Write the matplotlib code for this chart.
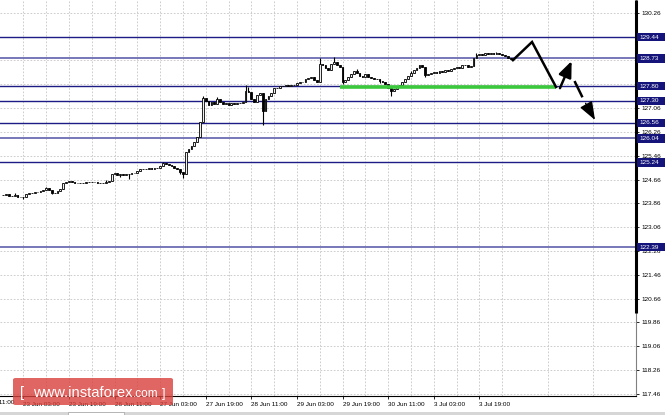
import matplotlib
matplotlib.use("Agg")
import matplotlib.pyplot as plt
import matplotlib.transforms as mtransforms
from matplotlib.patches import FancyBboxPatch, Rectangle
import numpy as np

# Hourly closes, first bar sits 7 hours before "23 Jun 03:00" (bar index 0)
FIRST_BAR = -7
FIRST_OPEN = 124.13
CLOSES = [
    124.15, 124.16, 124.12, 124.10, 124.13, 124.09, 124.08,
    124.07, 124.18, 124.22, 124.20, 124.24, 124.25, 124.27, 124.31,
    124.36, 124.30, 124.21, 124.20, 124.29, 124.35, 124.55, 124.58,
    124.60, 124.57, 124.55, 124.54, 124.55, 124.53, 124.57, 124.58,
    124.57, 124.59, 124.56, 124.55, 124.54, 124.58, 124.62, 124.85,
    124.88, 124.80, 124.84, 124.82, 124.86, 124.84, 124.88, 124.87,
    124.95, 125.00, 125.03, 125.02, 125.05, 125.03, 125.05, 125.04,
    125.12, 125.20, 125.18, 125.14, 125.10, 125.05, 125.00, 124.92,
    124.85, 125.58, 125.70, 125.80, 125.92, 126.08, 126.58, 127.40,
    127.30, 127.15, 127.25, 127.20, 127.38, 127.25, 127.20, 127.22,
    127.18, 127.22, 127.20, 127.24, 127.23, 127.28, 127.65, 127.60,
    127.35, 127.25, 127.50, 127.55, 126.95, 127.35, 127.45, 127.55,
    127.72, 127.75, 127.80, 127.79, 127.82, 127.80, 127.83, 127.82,
    127.90, 127.92, 127.95, 128.05, 128.08, 128.10, 128.00, 127.93,
    128.55, 128.50, 128.40, 128.35, 128.55, 128.62, 128.52, 128.45,
    127.95, 128.00, 128.10, 128.20, 128.30, 128.25, 128.15, 128.12,
    128.20, 128.12, 128.08, 128.02, 128.05, 127.98, 127.95, 127.88,
    127.75, 127.62, 127.70, 127.80, 127.85, 127.95, 128.05, 128.15,
    128.25, 128.35, 128.42, 128.50, 128.45, 128.18, 128.22, 128.25,
    128.27, 128.25, 128.30, 128.28, 128.35, 128.32, 128.38, 128.40,
    128.45, 128.40, 128.50, 128.52, 128.45, 128.48, 128.75, 128.85,
    128.88, 128.85, 128.90, 128.87, 128.90, 128.86, 128.92, 128.88,
    128.85, 128.80, 128.75, 128.72, 128.70,
]
# long shadows that stick out of the bodies
WICK_HIGHS = {-3: 124.20, 8: 124.42, 29: 124.66, 37: 124.68, 49: 125.26,
              63: 127.48, 68: 127.42, 78: 127.82, 79: 127.78, 104: 128.74,
              109: 128.77, 117: 128.36, 136: 128.30, 159: 128.90, 166: 128.96}
WICK_LOWS = {0: 124.02, 10: 124.16, 34: 124.74, 55: 124.86, 56: 124.70,
             84: 126.50, 112: 127.88, 125: 127.90, 129: 127.45, 141: 128.10}

TIME_LABELS = ["22 Jun 11:00", "23 Jun 03:00", "23 Jun 19:00", "26 Jun 11:00",
               "27 Jun 03:00", "27 Jun 19:00", "28 Jun 11:00", "29 Jun 03:00",
               "29 Jun 19:00", "30 Jun 11:00", "3 Jul 03:00", "3 Jul 19:00"]
TIME_TICKS = [-16, 0, 16, 32, 48, 64, 80, 96, 112, 128, 144, 160]
PRICE_TICKS = [117.46, 118.26, 119.06, 119.86, 120.66, 121.46, 122.26, 123.06,
               123.86, 124.66, 125.46, 126.26, 127.06, 127.86, 128.66, 129.46,
               130.26]
# tick labels that sit fully under a level box in the terminal
HIDDEN_TICKS = [127.86, 129.46]
LEVELS = [129.44, 128.73, 127.80, 127.30, 126.56, 126.04, 125.24, 122.39]
LIGHT_LEVELS = [128.73, 126.04, 122.39]

SUPPORT_PRICE = 127.78
SUPPORT_BARS = [111, 187]

PATH_X = [171.8, 178.5, 186.9]
PATH_Y = [128.67, 129.28, 127.77]
UP_FROM = (188.3, 127.73)
UP_TO = (192.4, 128.64)
DASH_X = [193.6, 196.0]
DASH_Y = [127.93, 127.46]
DOWN_FROM = (197.3, 127.22)
DOWN_TO = (200.6, 126.66)

NAVY = "#1c1c84"
LIGHT_NAVY = "#6c6cb4"
FONT = "Liberation Sans"


def main():
    plt.rcParams["font.family"] = [FONT, "DejaVu Sans"]
    fig = plt.figure(figsize=(6.65, 4.15), dpi=100, facecolor="white")
    ax = fig.add_axes([0, 19 / 415, 636 / 665, 396 / 415])
    ax.set_xlim(-8.18, 214.98)
    ax.set_ylim(117.39, 130.69)

    # candles
    closes = np.array(CLOSES)
    opens = np.concatenate([[FIRST_OPEN], closes[:-1]])
    idx = np.arange(len(closes)) + FIRST_BAR
    highs = np.maximum(opens, closes)
    lows = np.minimum(opens, closes)
    for i, v in WICK_HIGHS.items():
        highs[i - FIRST_BAR] = v
    for i, v in WICK_LOWS.items():
        lows[i - FIRST_BAR] = v
    ax.vlines(idx, lows, highs, color="black", lw=0.8, zorder=3)
    bull = closes >= opens
    ax.bar(idx, np.abs(closes - opens), bottom=np.minimum(opens, closes),
           width=0.62, color=np.where(bull, "#f0f0f0", "black"),
           edgecolor="black", lw=0.6, zorder=4)

    # horizontal levels with their price boxes on the scale
    lvl_tr = mtransforms.blended_transform_factory(ax.transAxes, ax.transData)
    box_h = 8.5 / 29.79
    for lv in LEVELS:
        light = lv in LIGHT_LEVELS
        ax.axhline(lv, color=LIGHT_NAVY if light else NAVY,
                   lw=1.3 if light else 1.0, zorder=2)
        ax.add_patch(Rectangle((1.002, lv - box_h / 2), 0.045, box_h,
                               transform=lvl_tr, fc="#14147a", ec="none",
                               clip_on=False, zorder=8))
        ax.text(1.0055, lv, f"{lv:.2f}", transform=lvl_tr, ha="left", va="center",
                fontsize=4.6, color="white", clip_on=False, zorder=9)

    ax.hlines(SUPPORT_PRICE, SUPPORT_BARS[0], SUPPORT_BARS[1],
              color="#3cc83c", lw=2.6, zorder=5)

    # forecast arrows
    ax.plot(PATH_X, PATH_Y, color="black", lw=1.8, zorder=6,
            solid_joinstyle="miter")
    ax.annotate("", xy=UP_TO, xytext=UP_FROM, zorder=6,
                arrowprops=dict(arrowstyle="-|>,head_length=0.8,head_width=0.33",
                                mutation_scale=12, color="black", lw=1.8,
                                shrinkA=0, shrinkB=0))
    ax.plot(DASH_X, DASH_Y, color="black", lw=1.8, zorder=6)
    ax.annotate("", xy=DOWN_TO, xytext=DOWN_FROM, zorder=6,
                arrowprops=dict(arrowstyle="-|>,head_length=0.8,head_width=0.3",
                                mutation_scale=14, color="black", lw=1.0,
                                shrinkA=0, shrinkB=0))

    # grid and axes
    ax.set_xticks(TIME_TICKS[1:], TIME_LABELS[1:], ha="left")
    ax.set_xticks(np.arange(8, 215, 16), minor=True)
    ax.yaxis.tick_right()
    ax.set_yticks(PRICE_TICKS, ["" if v in HIDDEN_TICKS else f"{v:.2f}"
                                for v in PRICE_TICKS])
    ax.tick_params(axis="both", which="major", labelsize=4.6, length=2.5,
                   width=0.6, pad=1.5, colors="black")
    ax.tick_params(axis="x", which="minor", length=0)
    ax.grid(True, which="both", color="#c4c4c4", lw=0.6, linestyle=(0, (2, 2)))
    ax.set_axisbelow(True)
    ax.text(TIME_TICKS[0], -4 / 396, TIME_LABELS[0], transform=ax.get_xaxis_transform(),
            ha="left", va="top", fontsize=4.6, clip_on=False)

    for s in ["top", "left"]:
        ax.spines[s].set_visible(False)
    ax.spines["bottom"].set_color("black")
    ax.spines["bottom"].set_linewidth(0.8)
    ax.spines["right"].set_color("#808080")
    ax.spines["right"].set_linewidth(0.8)
    ax.plot([1, 1], [0.21, 1], transform=ax.transAxes, color="black", lw=2.2,
            clip_on=False, solid_capstyle="butt", zorder=7)

    # status strip at the very bottom
    fig.patches.append(Rectangle((0, 0), 1, 3 / 415, transform=fig.transFigure,
                                 fc="#d6d6d6", ec="none", zorder=0))
    fig.patches.append(Rectangle((68 / 665, 0), 56 / 665, 3 / 415,
                                 transform=fig.transFigure, fc="white",
                                 ec="#a0a0a0", lw=0.5, zorder=1))

    # watermark
    fig.patches.append(FancyBboxPatch((13 / 665, 10 / 415), 160 / 665, 27 / 415,
                                      boxstyle="round,pad=0,rounding_size=0.004",
                                      transform=fig.transFigure, fc="#d9403c",
                                      ec="none", alpha=0.8, zorder=10))
    base = 18 / 415
    fig.text(20 / 665, base, "[", color="white", fontsize=10.5, va="baseline",
             zorder=11)
    fig.text(33 / 665, base, "www.instaforex", color="white", fontsize=10.6,
             va="baseline", zorder=11)
    fig.text(133 / 665, base, ".com", color="white", fontsize=8.5,
             va="baseline", zorder=11)
    fig.text(162 / 665, base, "]", color="white", fontsize=9, va="baseline",
             zorder=11)

    fig.savefig("out.png", dpi=100, facecolor="white")


if __name__ == "__main__":
    main()
